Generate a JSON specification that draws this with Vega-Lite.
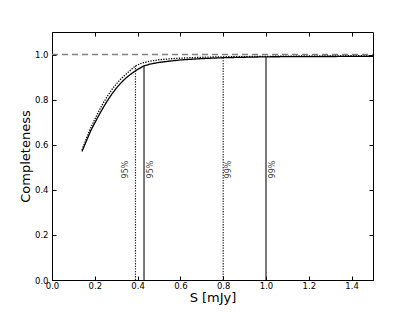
{
  "$schema": "https://vega.github.io/schema/vega-lite/v6.json",
  "width": 321,
  "height": 248,
  "autosize": {"type": "none"},
  "padding": {"left": 52, "top": 32, "right": 42, "bottom": 32},
  "background": "white",
  "config": {
    "font": "DejaVu Sans",
    "view": {"stroke": "#000", "strokeWidth": 1},
    "axis": {"grid": false, "domain": false, "labelFlush": false, "tickColor": "#000", "tickSize": -4, "labelColor": "#000", "labelFont": "DejaVu Sans", "labelFontSize": 8.5, "titleFont": "DejaVu Sans", "titleFontWeight": "normal", "titleColor": "#000"}
  },
  "datasets": {
    "curves": [
      {"S": 0.14, "C": 0.57, "series": "solid"},
      {"S": 0.16, "C": 0.615, "series": "solid"},
      {"S": 0.18, "C": 0.66, "series": "solid"},
      {"S": 0.20, "C": 0.697, "series": "solid"},
      {"S": 0.22, "C": 0.732, "series": "solid"},
      {"S": 0.24, "C": 0.766, "series": "solid"},
      {"S": 0.26, "C": 0.797, "series": "solid"},
      {"S": 0.28, "C": 0.825, "series": "solid"},
      {"S": 0.30, "C": 0.85, "series": "solid"},
      {"S": 0.32, "C": 0.872, "series": "solid"},
      {"S": 0.34, "C": 0.891, "series": "solid"},
      {"S": 0.36, "C": 0.907, "series": "solid"},
      {"S": 0.38, "C": 0.921, "series": "solid"},
      {"S": 0.40, "C": 0.934, "series": "solid"},
      {"S": 0.43, "C": 0.95, "series": "solid"},
      {"S": 0.46, "C": 0.958, "series": "solid"},
      {"S": 0.50, "C": 0.965, "series": "solid"},
      {"S": 0.55, "C": 0.971, "series": "solid"},
      {"S": 0.60, "C": 0.976, "series": "solid"},
      {"S": 0.70, "C": 0.982, "series": "solid"},
      {"S": 0.80, "C": 0.986, "series": "solid"},
      {"S": 0.90, "C": 0.988, "series": "solid"},
      {"S": 1.00, "C": 0.99, "series": "solid"},
      {"S": 1.20, "C": 0.991, "series": "solid"},
      {"S": 1.50, "C": 0.992, "series": "solid"},
      {"S": 0.14, "C": 0.576, "series": "dotted"},
      {"S": 0.16, "C": 0.626, "series": "dotted"},
      {"S": 0.18, "C": 0.673, "series": "dotted"},
      {"S": 0.20, "C": 0.713, "series": "dotted"},
      {"S": 0.22, "C": 0.751, "series": "dotted"},
      {"S": 0.24, "C": 0.786, "series": "dotted"},
      {"S": 0.26, "C": 0.817, "series": "dotted"},
      {"S": 0.28, "C": 0.845, "series": "dotted"},
      {"S": 0.30, "C": 0.869, "series": "dotted"},
      {"S": 0.32, "C": 0.89, "series": "dotted"},
      {"S": 0.34, "C": 0.908, "series": "dotted"},
      {"S": 0.36, "C": 0.925, "series": "dotted"},
      {"S": 0.39, "C": 0.95, "series": "dotted"},
      {"S": 0.42, "C": 0.962, "series": "dotted"},
      {"S": 0.46, "C": 0.971, "series": "dotted"},
      {"S": 0.50, "C": 0.977, "series": "dotted"},
      {"S": 0.55, "C": 0.981, "series": "dotted"},
      {"S": 0.60, "C": 0.984, "series": "dotted"},
      {"S": 0.70, "C": 0.988, "series": "dotted"},
      {"S": 0.80, "C": 0.99, "series": "dotted"},
      {"S": 1.00, "C": 0.992, "series": "dotted"},
      {"S": 1.20, "C": 0.994, "series": "dotted"},
      {"S": 1.50, "C": 0.995, "series": "dotted"}
    ],
    "rules": [
      {"S": 0.39, "bottom": 0, "top": 0.95, "series": "dotted"},
      {"S": 0.43, "bottom": 0, "top": 0.95, "series": "solid"},
      {"S": 0.80, "bottom": 0, "top": 0.99, "series": "dotted"},
      {"S": 1.00, "bottom": 0, "top": 0.99, "series": "solid"}
    ],
    "labels": [
      {"S": 0.345, "y": 0.49, "label": "95%"},
      {"S": 0.463, "y": 0.49, "label": "95%"},
      {"S": 0.827, "y": 0.49, "label": "99%"},
      {"S": 1.031, "y": 0.49, "label": "99%"}
    ],
    "ref": [{"S0": 0, "S1": 1.5, "C": 1.0}]
  },
  "layer": [
    {
      "layer": [
        {
          "data": {"name": "curves"},
          "mark": {"type": "line", "color": "#000", "strokeWidth": 1.3},
          "encoding": {
            "x": {"field": "S", "type": "quantitative", "scale": {"domain": [0, 1.5], "nice": false}, "axis": {"values": [0, 0.2, 0.4, 0.6, 0.8, 1.0, 1.2, 1.4], "format": ".1f", "title": "S [mJy]", "titleFontSize": 13, "titlePadding": 2, "labelPadding": 5}},
            "y": {"field": "C", "type": "quantitative", "scale": {"domain": [0, 1.1], "nice": false}, "axis": {"values": [0, 0.2, 0.4, 0.6, 0.8, 1.0], "format": ".1f", "title": "Completeness", "titleFontSize": 13, "titlePadding": 2, "labelPadding": 8}},
            "strokeDash": {"field": "series", "type": "nominal", "scale": {"domain": ["solid", "dotted"], "range": [[1, 0], [1.3, 1.3]]}, "legend": null}
          }
        },
        {
          "data": {"name": "ref"},
          "mark": {"type": "rule", "color": "#808080", "strokeWidth": 1.5, "strokeDash": [6, 4]},
          "encoding": {
            "x": {"field": "S0", "type": "quantitative"},
            "x2": {"field": "S1"},
            "y": {"field": "C", "type": "quantitative"}
          }
        },
        {
          "data": {"name": "rules"},
          "mark": {"type": "rule", "color": "#222", "strokeWidth": 1.2},
          "encoding": {
            "x": {"field": "S", "type": "quantitative"},
            "y": {"field": "bottom", "type": "quantitative"},
            "y2": {"field": "top"},
            "strokeDash": {"field": "series", "type": "nominal", "scale": {"domain": ["solid", "dotted"], "range": [[1, 0], [1.3, 1.3]]}, "legend": null}
          }
        },
        {
          "data": {"name": "labels"},
          "mark": {"type": "text", "angle": 270, "fontSize": 8, "color": "#444", "align": "center", "baseline": "middle"},
          "encoding": {
            "x": {"field": "S", "type": "quantitative"},
            "y": {"field": "y", "type": "quantitative"},
            "text": {"field": "label"}
          }
        }
      ]
    },
    {
      "data": {"name": "ref"},
      "mark": {"type": "point", "opacity": 0},
      "encoding": {
        "x": {"field": "S0", "type": "quantitative", "axis": {"orient": "top", "values": [0, 0.2, 0.4, 0.6, 0.8, 1.0, 1.2, 1.4], "labels": false, "title": null}},
        "y": {"field": "C", "type": "quantitative", "axis": {"orient": "right", "values": [0, 0.2, 0.4, 0.6, 0.8, 1.0], "labels": false, "title": null}}
      }
    }
  ],
  "resolve": {"axis": {"x": "independent", "y": "independent"}}
}
